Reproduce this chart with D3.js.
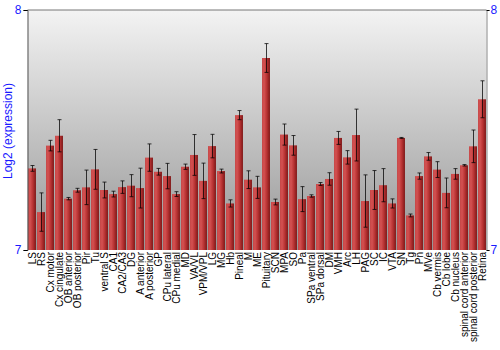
<!DOCTYPE html>
<html>
<head>
<meta charset="utf-8">
<script src="https://cdn.jsdelivr.net/npm/d3@7"></script>
<style>
  html, body { margin: 0; padding: 0; background: #fff; }
  svg { display: block; font-family: "Liberation Sans", Arial, sans-serif; }
</style>
</head>
<body>
<svg id="chart" width="500" height="350"></svg>
<script>
const categories = ["LS","RS","Cx motor","Cx cingulate","OB anterior","OB posterior","Pir","Tu","ventral S","CA1","CA2/CA3","DG","A anterior","A posterior","GP","CPu lateral","CPu medial","MD","VA/VL","VPM/VPL","LG","MG","Hb","Pineal","M","ME","Pituitary","SCN","MPA","SO","Pa","SPa ventral","SPa dorsal","DM","VMH","Arc","LH","PAG","SC","IC","VTA","SN","Tg","Pn","MVe","Cb vermis","Cb lobe","Cb nucleus","spinal cord anterior","spinal cord posterior","Retina"];
const values = [7.340,7.158,7.435,7.476,7.214,7.249,7.261,7.336,7.250,7.233,7.262,7.268,7.258,7.385,7.326,7.308,7.233,7.347,7.396,7.288,7.433,7.329,7.194,7.562,7.293,7.261,7.800,7.200,7.481,7.436,7.212,7.225,7.275,7.296,7.467,7.386,7.479,7.204,7.250,7.270,7.194,7.467,7.144,7.308,7.390,7.335,7.238,7.317,7.353,7.432,7.628];
const errors = [0.012,0.080,0.022,0.067,0.005,0.008,0.072,0.083,0.033,0.012,0.026,0.046,0.083,0.057,0.014,0.053,0.010,0.011,0.085,0.074,0.049,0.008,0.015,0.019,0.037,0.046,0.060,0.012,0.044,0.041,0.052,0.005,0.006,0.026,0.027,0.028,0.108,0.109,0.081,0.069,0.019,0.002,0.006,0.013,0.016,0.033,0.062,0.022,0.003,0.068,0.077];
const yTicks = [7, 8];
const yTitle = "Log2 (expression)";

(function () {
const svg = d3.select("#chart");
const pL = 27.5, pR = 486.5, pT = 10, pB = 250;

const x = d3.scaleBand().domain(categories).range([pL, pR]).paddingInner(0.12).paddingOuter(0.06);
const y = d3.scaleLinear().domain([7, 8]).range([pB, pT]);

const defs = svg.append("defs");
const bg = defs.append("linearGradient").attr("id", "bg").attr("x1", 0).attr("x2", 0).attr("y1", 0).attr("y2", 1);
bg.append("stop").attr("offset", "0%").attr("stop-color", "#f3f3f3");
bg.append("stop").attr("offset", "100%").attr("stop-color", "#969696");

const bar = defs.append("linearGradient").attr("id", "bar").attr("x1", 0).attr("x2", 1).attr("y1", 0).attr("y2", 0);
bar.append("stop").attr("offset", "0%").attr("stop-color", "#c64343");
bar.append("stop").attr("offset", "25%").attr("stop-color", "#d45252");
bar.append("stop").attr("offset", "60%").attr("stop-color", "#b83333");
bar.append("stop").attr("offset", "100%").attr("stop-color", "#7e1717");

svg.append("rect").attr("x", pL).attr("y", pT).attr("width", pR - pL).attr("height", pB - pT).attr("fill", "url(#bg)");

svg.append("g").selectAll("rect").data(categories).join("rect")
  .attr("x", d => x(d))
  .attr("width", x.bandwidth())
  .attr("y", (d, i) => y(values[i]))
  .attr("height", (d, i) => y(7) - y(values[i]))
  .attr("fill", "url(#bar)");

const eb = svg.append("g").attr("stroke", "#000").attr("stroke-opacity", 0.75).attr("stroke-width", 1);
categories.forEach((c, i) => {
  const cx = Math.round(x(c) + x.bandwidth() / 2) + 0.5;
  const y1 = y(values[i] + errors[i]), y2 = y(values[i] - errors[i]);
  eb.append("line").attr("x1", cx).attr("x2", cx).attr("y1", y1).attr("y2", y2);
  eb.append("line").attr("x1", cx - 2).attr("x2", cx + 2).attr("y1", y1).attr("y2", y1);
  eb.append("line").attr("x1", cx - 2).attr("x2", cx + 2).attr("y1", y2).attr("y2", y2);
});

svg.append("line").attr("x1", pL).attr("x2", pR).attr("y1", pT).attr("y2", pT).attr("stroke", "#777");

const yl = svg.append("g").attr("transform", `translate(${pL},0)`)
  .call(d3.axisLeft(y).tickValues(yTicks).tickFormat(d3.format("d")).tickSize(4).tickPadding(2));
yl.select(".domain").attr("stroke", "#555");
yl.selectAll(".tick line").attr("stroke", "#000");
yl.selectAll("text").attr("fill", "#1a1aff").style("font-size", "12px").style("font-family", "Liberation Sans, Arial, sans-serif");

const yr = svg.append("g").attr("transform", `translate(${pR},0)`)
  .call(d3.axisRight(y).tickValues(yTicks).tickFormat(d3.format("d")).tickSize(3).tickPadding(1));
yr.select(".domain").attr("stroke", "#888");
yr.selectAll(".tick line").attr("stroke", "#000");
yr.selectAll("text").attr("fill", "#1a1aff").style("font-size", "12px").style("font-family", "Liberation Sans, Arial, sans-serif");

const xa = svg.append("g").attr("transform", `translate(0,${pB})`)
  .call(d3.axisBottom(x).tickSize(0).tickPadding(0));
xa.select(".domain").remove();
xa.selectAll("text")
  .attr("transform", "rotate(-90)")
  .attr("x", -2).attr("y", 0).attr("dy", "0.35em")
  .attr("text-anchor", "end")
  .attr("fill", "#000")
  .style("font-size", "10px")
  .style("font-family", "Liberation Sans, Arial, sans-serif");

svg.append("text")
  .attr("transform", "translate(12,131) rotate(-90)")
  .attr("text-anchor", "middle")
  .attr("fill", "#1a1aff")
  .style("font-size", "12px")
  .text(yTitle);
})();
</script>
</body>
</html>
